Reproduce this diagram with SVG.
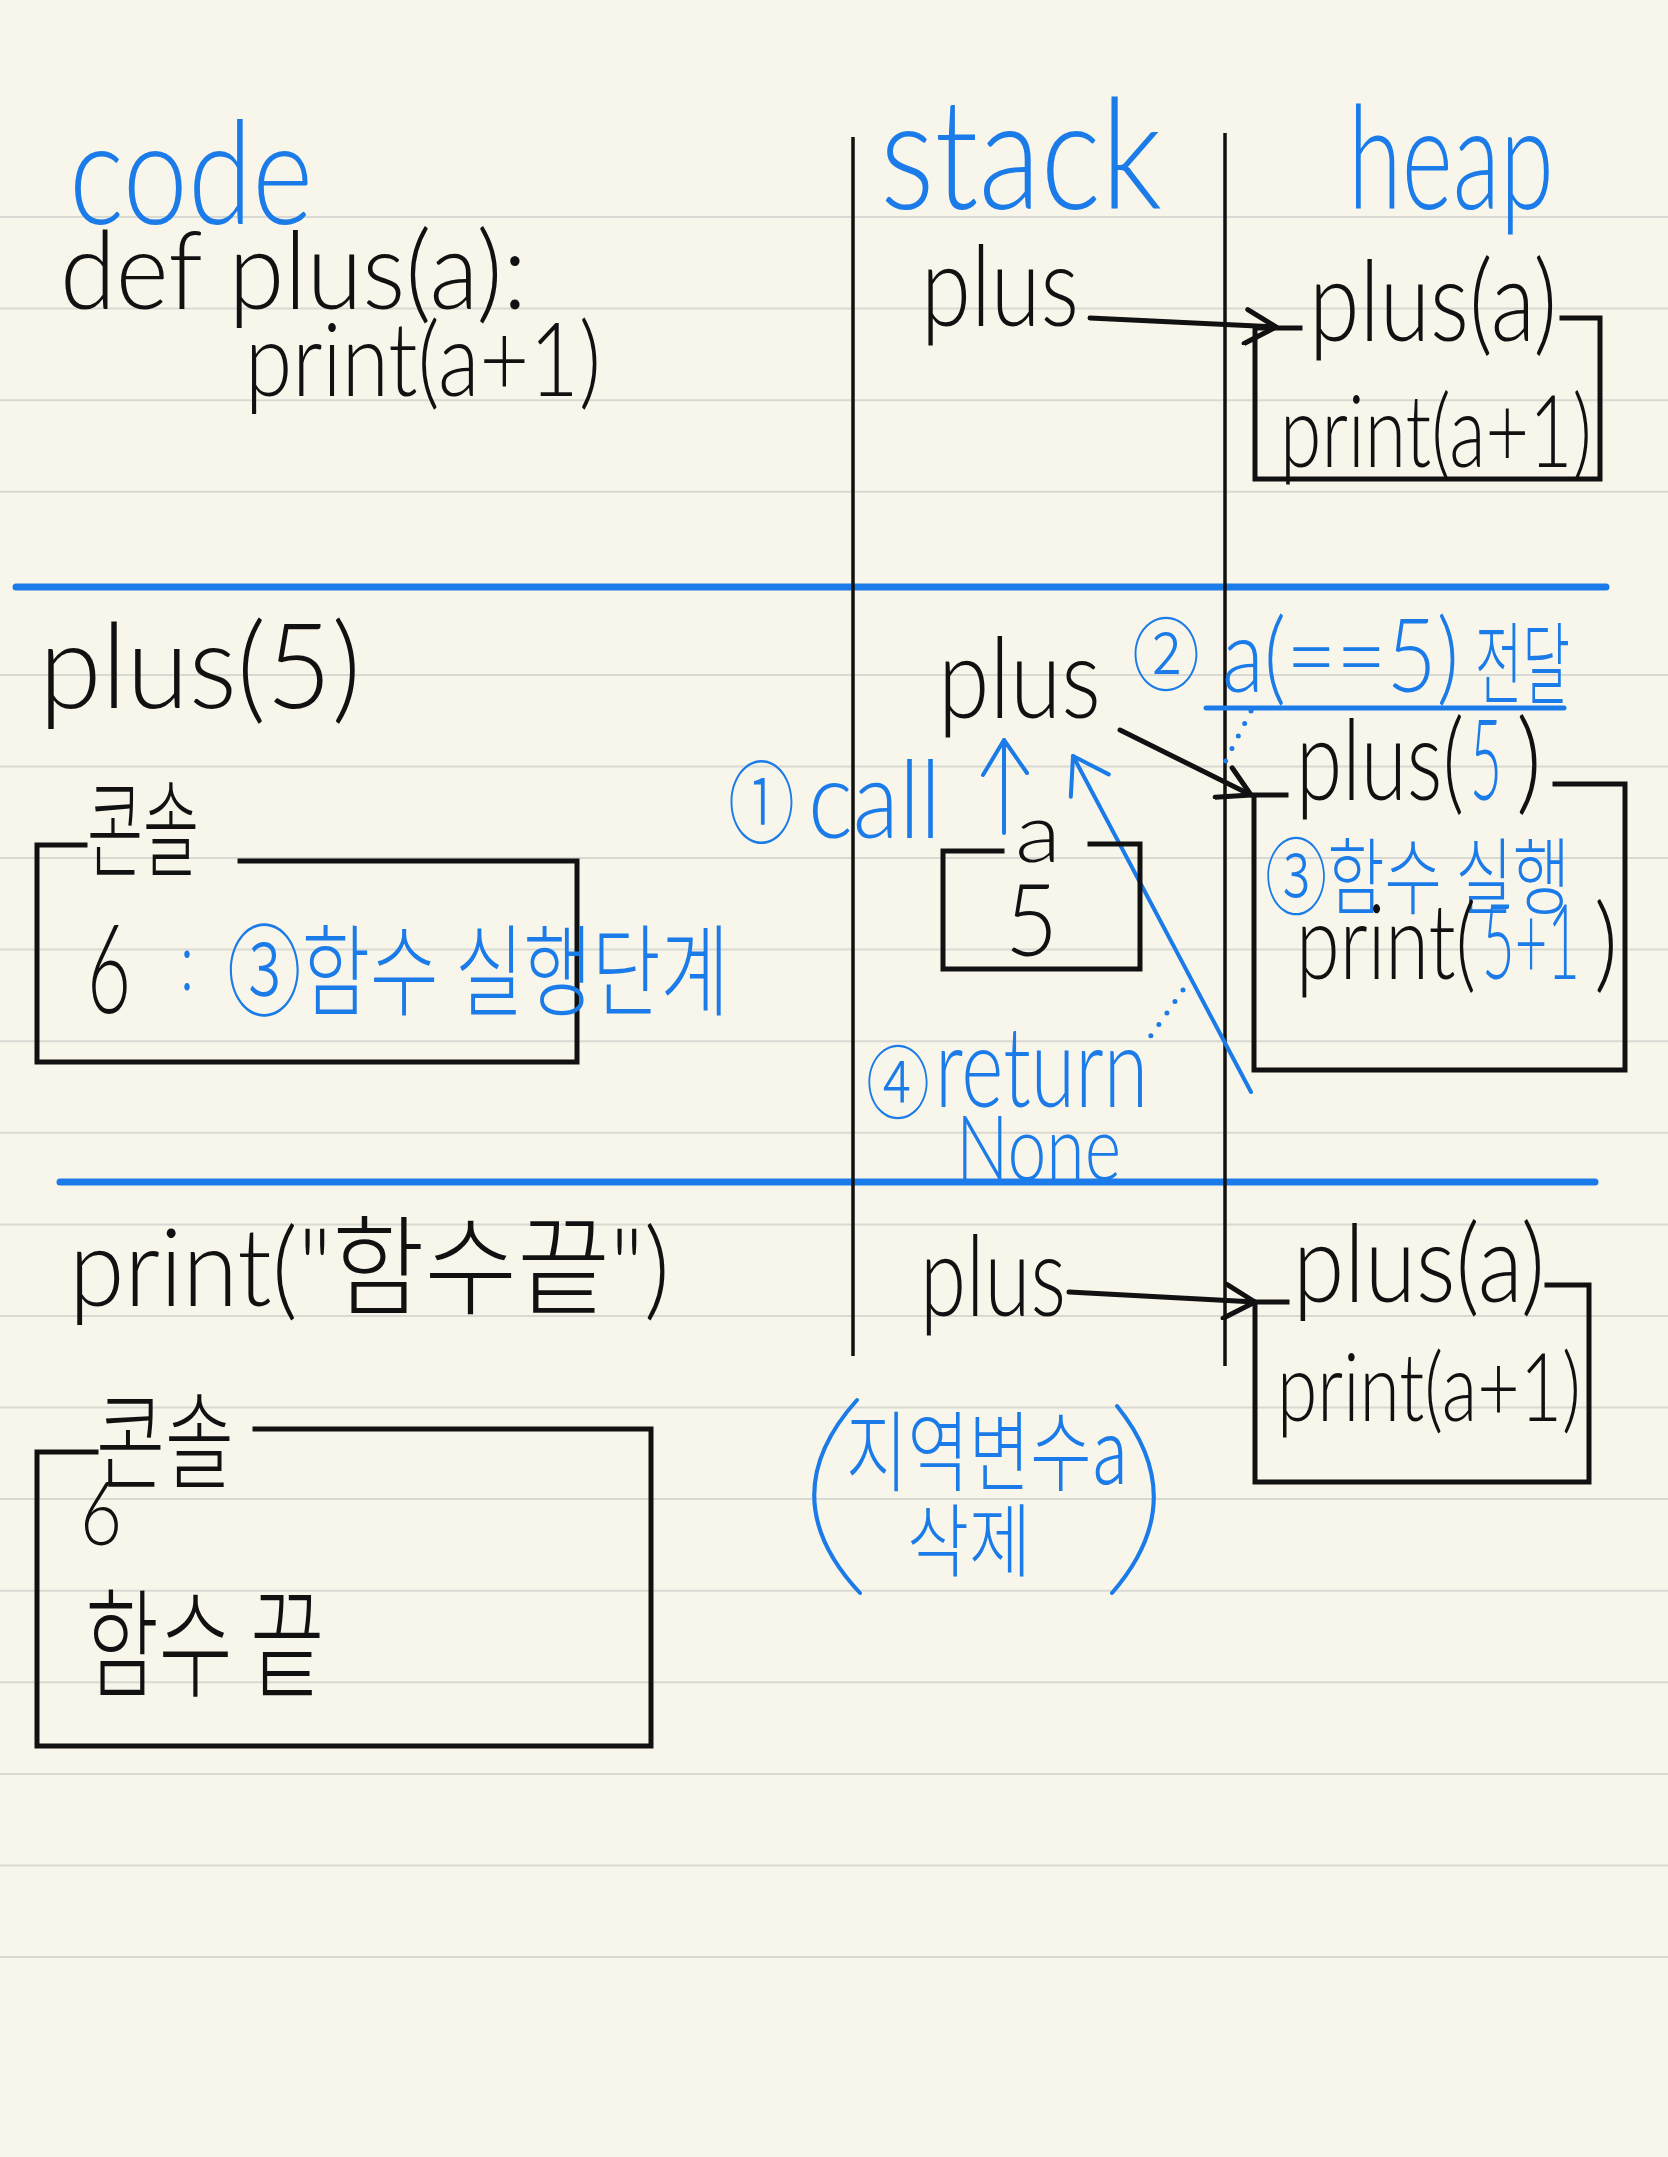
<svg xmlns="http://www.w3.org/2000/svg" width="1668" height="2157" viewBox="0 0 1668 2157">
<style>
.k{fill:#111;font-family:"Lato","Liberation Sans","Noto Sans CJK KR",sans-serif;font-weight:300}
.b{fill:#1b7be8;font-family:"Lato","Liberation Sans","Noto Sans CJK KR",sans-serif;font-weight:300}
.kr{font-family:"Noto Sans CJK KR","Liberation Sans",sans-serif;font-weight:300}
.box{fill:none;stroke:#111;stroke-width:5;stroke-linecap:square;stroke-linejoin:miter}
.col{stroke:#111;stroke-width:3.5;fill:none}
.sep{stroke:#1b7be8;stroke-width:7;stroke-linecap:round;fill:none}
.rule{stroke:#d9d9d4;stroke-width:2;fill:none}
.ka{stroke:#111;stroke-width:5;fill:none;stroke-linecap:round}
.ba{stroke:#1b7be8;stroke-width:4;fill:none;stroke-linecap:round}
.bl{stroke:#1b7be8;stroke-width:5;fill:none;stroke-linecap:round}
.dot{stroke:#1b7be8;stroke-width:5;stroke-linecap:round;stroke-dasharray:0 14;fill:none}
</style>
<defs>
<marker id="ak" viewBox="0 0 40 40" refX="37" refY="20" markerWidth="40" markerHeight="40" markerUnits="userSpaceOnUse" orient="auto">
<path d="M8,4 L37,20 L6,38" fill="none" stroke="#111" stroke-width="5" stroke-linecap="round" stroke-linejoin="round"/>
</marker>
<marker id="ab" viewBox="0 0 50 50" refX="47" refY="25" markerWidth="50" markerHeight="50" markerUnits="userSpaceOnUse" orient="auto">
<path d="M12,4 L47,25 L14,48" fill="none" stroke="#1b7be8" stroke-width="4" stroke-linecap="round" stroke-linejoin="round"/>
</marker>
</defs>
<rect width="1668" height="2157" fill="#f8f6ea"/>
<g id="ruling">
<path class="rule" d="M0,217H1668M0,308.6H1668M0,400.2H1668M0,491.7H1668M0,674.9H1668M0,766.5H1668M0,858.1H1668M0,949.6H1668M0,1041.2H1668M0,1132.8H1668M0,1224.4H1668M0,1316H1668M0,1407.5H1668M0,1499.1H1668M0,1590.7H1668M0,1682.3H1668M0,1773.9H1668M0,1865.4H1668M0,1957H1668"/>
</g>
<g id="frame">
<path class="sep" d="M16,587H1606M60,1182H1595"/>
<path class="col" d="M853,137V1356M1225,133V1366"/>
</g>
<g id="connectors">
<path class="ka" d="M1090,318L1276,327" marker-end="url(#ak)"/>
<path class="ka" d="M1120,730L1251,795" marker-end="url(#ak)"/>
<path class="ka" d="M1069,1292L1255,1302" marker-end="url(#ak)"/>
<path class="ba" d="M1004,833L1004,740" marker-end="url(#ab)"/>
<path class="ba" d="M1251,1092L1073,756" marker-end="url(#ab)"/>
<path class="dot" d="M1251,711L1220,772M1183,990L1143,1047"/>
</g>
<g id="title-code"><text class="b" x="69" y="224" font-size="145" textLength="244" lengthAdjust="spacingAndGlyphs">code</text></g>
<g id="title-stack"><text class="b" x="880" y="209" font-size="155" textLength="282" lengthAdjust="spacingAndGlyphs">stack</text></g>
<g id="title-heap"><text class="b" x="1348" y="209" font-size="145" textLength="206" lengthAdjust="spacingAndGlyphs">heap</text></g>
<g id="code-def">
<text class="k" x="60" y="309" font-size="108" textLength="467" lengthAdjust="spacingAndGlyphs">def plus(a):</text>
<text class="k" x="245" y="396" font-size="102" textLength="356" lengthAdjust="spacingAndGlyphs">print(a+1)</text>
</g>
<g id="stack-plus-1"><text class="k" x="921" y="326" font-size="112" textLength="158" lengthAdjust="spacingAndGlyphs">plus</text></g>
<g id="heap-plus-1">
<path class="box" d="M1300,328H1255V479H1600V318H1562"/>
<text class="k" x="1309" y="341" font-size="112" textLength="248" lengthAdjust="spacingAndGlyphs">plus(a)</text>
<text class="k" x="1280" y="467" font-size="100" textLength="312" lengthAdjust="spacingAndGlyphs">print(a+1)</text>
</g>
<g id="call-plus5"><text class="k" x="39" y="708" font-size="118" textLength="322" lengthAdjust="spacingAndGlyphs">plus(5)</text></g>
<g id="console-1">
<path class="box" d="M85,845H37V1062H577V861H240"/>
<text class="k kr" x="87" y="868" font-size="105" textLength="112" lengthAdjust="spacingAndGlyphs">콘솔</text>
<text class="k" x="87" y="1013" font-size="125" textLength="44" lengthAdjust="spacingAndGlyphs">6</text>
<text class="b" x="180" y="990" font-size="80" textLength="14" lengthAdjust="spacingAndGlyphs">:</text>
<text class="b kr" x="227" y="1008" font-size="100" textLength="502" lengthAdjust="spacingAndGlyphs">③함수 실행단계</text>
</g>
<g id="stack-plus-2">
<text class="k" x="938" y="718" font-size="112" textLength="163" lengthAdjust="spacingAndGlyphs">plus</text>
</g>
<g id="step-call">
<text class="b kr" x="728" y="836" font-size="90" textLength="67" lengthAdjust="spacingAndGlyphs">①</text>
<text class="b" x="808" y="838" font-size="108" textLength="133" lengthAdjust="spacingAndGlyphs">call</text>
</g>
<g id="stack-var-a">
<path class="box" d="M1002,851H943V969H1140V844H1090"/>
<text class="k" x="1015" y="862" font-size="82" textLength="46" lengthAdjust="spacingAndGlyphs">a</text>
<text class="k" x="1005" y="956" font-size="100" textLength="53" lengthAdjust="spacingAndGlyphs">5</text>
</g>
<g id="step-pass">
<text class="b kr" x="1132" y="684" font-size="80" textLength="68" lengthAdjust="spacingAndGlyphs">②</text>
<text class="b" x="1222" y="692" font-size="102" textLength="237" lengthAdjust="spacingAndGlyphs">a(==5)</text>
<text class="b kr" x="1475" y="697" font-size="90" textLength="95" lengthAdjust="spacingAndGlyphs">전달</text>
<path class="bl" d="M1206,708H1564"/>
</g>
<g id="heap-plus-2">
<path class="box" d="M1286,795H1254V1070H1625V784H1555"/>
<text class="k" x="1296" y="800" font-size="112" textLength="168" lengthAdjust="spacingAndGlyphs">plus(</text>
<text class="b" x="1470" y="800" font-size="112" textLength="32" lengthAdjust="spacingAndGlyphs">5</text>
<text class="k" x="1516" y="800" font-size="112" textLength="26" lengthAdjust="spacingAndGlyphs">)</text>
<text class="b kr" x="1265" y="908" font-size="84" textLength="305" lengthAdjust="spacingAndGlyphs">③함수 실행</text>
<text class="k" x="1296" y="979" font-size="105" textLength="180" lengthAdjust="spacingAndGlyphs">print(</text>
<text class="b" x="1482" y="979" font-size="105" textLength="98" lengthAdjust="spacingAndGlyphs">5+1</text>
<text class="k" x="1594" y="979" font-size="105" textLength="24" lengthAdjust="spacingAndGlyphs">)</text>
</g>
<g id="step-return">
<text class="b kr" x="866" y="1112" font-size="80" textLength="64" lengthAdjust="spacingAndGlyphs">④</text>
<text class="b" x="935" y="1107" font-size="112" textLength="213" lengthAdjust="spacingAndGlyphs">return</text>
<text class="b" x="956" y="1180" font-size="90" textLength="165" lengthAdjust="spacingAndGlyphs">None</text>
</g>
<g id="code-print">
<text class="k" x="69" y="1306" font-size="108" textLength="601" lengthAdjust="spacingAndGlyphs">print("함수끝")</text>
</g>
<g id="stack-plus-3"><text class="k" x="920" y="1316" font-size="112" textLength="146" lengthAdjust="spacingAndGlyphs">plus</text></g>
<g id="heap-plus-3">
<path class="box" d="M1287,1302H1255V1482H1589V1285H1547"/>
<text class="k" x="1293" y="1302" font-size="108" textLength="252" lengthAdjust="spacingAndGlyphs">plus(a)</text>
<text class="k" x="1277" y="1421" font-size="95" textLength="304" lengthAdjust="spacingAndGlyphs">print(a+1)</text>
</g>
<g id="note-delete">
<path class="ba" d="M857,1400Q770,1497 860,1593M1117,1406Q1193,1500 1112,1593"/>
<text class="b kr" x="846" y="1484" font-size="88" textLength="282" lengthAdjust="spacingAndGlyphs">지역변수a</text>
<text class="b kr" x="907" y="1570" font-size="80" textLength="124" lengthAdjust="spacingAndGlyphs">삭제</text>
</g>
<g id="console-2">
<path class="box" d="M96,1452H37V1746H651V1429H255"/>
<text class="k kr" x="96" y="1480" font-size="105" textLength="138" lengthAdjust="spacingAndGlyphs">콘솔</text>
<text class="k" x="80" y="1545" font-size="88" textLength="42" lengthAdjust="spacingAndGlyphs">6</text>
<text class="k kr" x="85" y="1688" font-size="118" textLength="239" lengthAdjust="spacingAndGlyphs">함수 끝</text>
</g>
</svg>
